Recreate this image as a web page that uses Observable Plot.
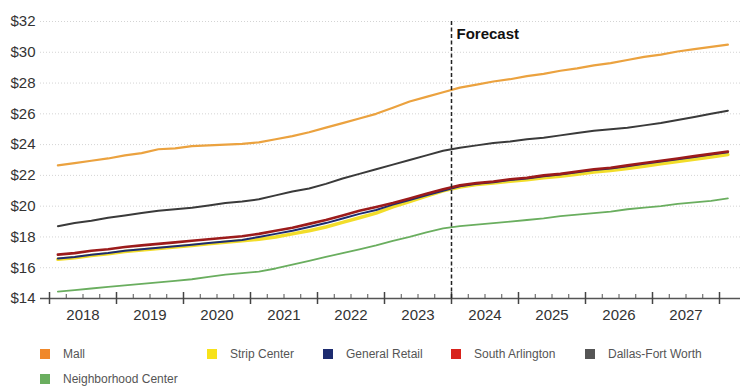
<!DOCTYPE html>
<html><head><meta charset="utf-8">
<script src="https://cdn.jsdelivr.net/npm/d3@7"></script>
<script src="https://cdn.jsdelivr.net/npm/@observablehq/plot@0.6"></script>
<style>
body{margin:0;background:#fff;font-family:"Liberation Sans",Arial,sans-serif;}
#wrap{position:relative;width:743px;height:387px;overflow:hidden;background:#fff}
#legend{position:absolute;left:0;top:0;width:743px;height:387px}
.item{position:absolute;display:flex;align-items:center;font-size:12px;color:#555;white-space:nowrap;transform:translateY(-50%)}
.sw{width:10px;height:10px;margin-right:13px;flex:none}
</style></head><body><div id="wrap"><div id="chart"></div><div id="legend"></div></div>
<script>
// ---- data ----
const years = [2018, 2019, 2020, 2021, 2022, 2023, 2024, 2025, 2026, 2027];
const periods = []; // quarterly periods 2018 Q1 ... 2028 Q1
for (const y of [...years, 2028]) for (let q = 1; q <= 4; q++) { if (y === 2028 && q > 1) break; periods.push(`${y} Q${q}`); }
const forecastStart = 2024;
const yTicks = [14, 16, 18, 20, 22, 24, 26, 28, 30, 32];

const mall = [22.65,22.8,22.95,23.1,23.3,23.45,23.7,23.75,23.9,23.95,24.0,24.05,24.15,24.35,24.55,24.8,25.1,25.4,25.7,26.0,26.4,26.8,27.1,27.4,27.7,27.9,28.1,28.25,28.45,28.6,28.8,28.95,29.15,29.3,29.5,29.7,29.85,30.05,30.2,30.35,30.5];
const stripCenter = [16.55,16.65,16.8,16.9,17.05,17.15,17.25,17.35,17.45,17.55,17.65,17.75,17.85,18.0,18.2,18.4,18.65,18.95,19.25,19.55,19.95,20.3,20.65,21.0,21.25,21.4,21.5,21.62,21.72,21.85,21.95,22.08,22.22,22.32,22.45,22.6,22.75,22.9,23.05,23.2,23.35];
const generalRetail = [16.6,16.7,16.85,16.95,17.1,17.2,17.3,17.4,17.5,17.6,17.7,17.8,18.0,18.2,18.4,18.65,18.9,19.2,19.5,19.75,20.1,20.4,20.7,21.0,21.3,21.45,21.55,21.7,21.8,21.95,22.05,22.2,22.35,22.45,22.6,22.75,22.9,23.05,23.2,23.35,23.5];
const southArlington = [16.85,16.95,17.1,17.2,17.35,17.45,17.55,17.65,17.75,17.85,17.95,18.05,18.2,18.4,18.6,18.85,19.1,19.4,19.7,19.95,20.2,20.5,20.8,21.1,21.35,21.5,21.6,21.75,21.85,22.0,22.1,22.25,22.4,22.5,22.65,22.8,22.95,23.1,23.25,23.4,23.55];
const dallasFortWorth = [18.7,18.9,19.05,19.25,19.4,19.55,19.7,19.8,19.9,20.05,20.2,20.3,20.45,20.7,20.95,21.15,21.45,21.8,22.1,22.4,22.7,23.0,23.3,23.6,23.8,23.95,24.1,24.2,24.35,24.45,24.6,24.75,24.9,25.0,25.1,25.25,25.4,25.6,25.8,26.0,26.2];
const neighborhoodCenter = [14.45,14.55,14.65,14.75,14.85,14.95,15.05,15.15,15.25,15.4,15.55,15.65,15.75,15.95,16.2,16.45,16.7,16.95,17.2,17.45,17.75,18.0,18.3,18.55,18.7,18.8,18.9,19.0,19.1,19.2,19.35,19.45,19.55,19.65,19.8,19.9,20.0,20.15,20.25,20.35,20.5];

const seriesNames = ["Mall", "Strip Center", "General Retail", "South Arlington", "Dallas-Fort Worth", "Neighborhood Center"];
const seriesValues = [mall, stripCenter, generalRetail, southArlington, dallasFortWorth, neighborhoodCenter];
const seriesColors = ["#EBA23F", "#F2DD2A", "#1D2C70", "#9C1B1B", "#3A3A3A", "#6AAE5F"];

// ---- build ----
const tOf = p => { const [y, q] = p.split(" Q").map(Number); return y + (q - 1) / 4 + 0.125; };
const rows = (vals) => periods.map((p, i) => ({t: tOf(p), v: vals[i]}));
const lineStyle = {
  "Mall": {strokeWidth: 2.2},
  "Strip Center": {strokeWidth: 3.5},
  "General Retail": {strokeWidth: 2},
  "South Arlington": {strokeWidth: 2.6},
  "Dallas-Fort Worth": {strokeWidth: 2},
  "Neighborhood Center": {strokeWidth: 1.8}
};
const drawOrder = ["Mall", "Neighborhood Center", "Dallas-Fort Worth", "Strip Center", "General Retail", "South Arlington"];

const quarterTicks = [];
for (const y of years) for (let q = 1; q < 4; q++) quarterTicks.push(y + q / 4);
const yearBounds = [...years, 2028];

const chart = Plot.plot({
  width: 743, height: 330,
  marginLeft: 40, marginRight: 3, marginTop: 21, marginBottom: 32,
  style: {fontFamily: "Liberation Sans, Arial, sans-serif", background: "white", color: "#333"},
  x: {type: "linear", domain: [2018 - 9 / 67, 2028 + 21 / 67]},
  y: {domain: [14, 32]},
  marks: [
    Plot.ruleY(yTicks.slice(1), {stroke: "#d4d4d4", strokeDasharray: "1,2", strokeWidth: 1}),
    Plot.axisY(yTicks, {tickSize: 0, tickPadding: 5, tickFormat: d => "$" + d, fontSize: 15, fill: "#333", label: null}),
    ...drawOrder.map(name => {
      const k = seriesNames.indexOf(name);
      return Plot.line(rows(seriesValues[k]), {x: "t", y: "v", stroke: seriesColors[k], strokeLinejoin: "round", ...lineStyle[name]});
    }),
    Plot.ruleY([14], {stroke: "#555", strokeWidth: 1.5}),
    Plot.axisX(quarterTicks, {tickSize: -4, tickFormat: () => "", stroke: "#555", label: null}),
    Plot.axisX(yearBounds, {tickSize: -6, tickFormat: () => "", stroke: "#444", strokeWidth: 1.5, label: null}),
    Plot.axisX(yearBounds, {tickSize: 6, tickFormat: () => "", stroke: "#444", strokeWidth: 1.5, label: null}),
    Plot.axisX(years.map(y => y + 0.5), {tickSize: 0, tickPadding: 11, tickFormat: d => String(Math.floor(d)), fontSize: 15, fill: "#333", label: null}),
    Plot.ruleX([forecastStart], {stroke: "#222", strokeWidth: 1.5, strokeDasharray: "4,2.5"}),
    Plot.text([forecastStart], {x: d => d, frameAnchor: "top", text: () => "Forecast", dx: 5, dy: 7, textAnchor: "start", fontWeight: "bold", fontSize: 15, fill: "#111"})
  ]
});
document.getElementById("chart").appendChild(chart);

// legend (layout positions only)
const legendPos = [[40, 354], [207, 354], [323, 354], [451, 354], [585, 354], [40, 379]];
const legendColors = ["#F0882A", "#F7E21A", "#1D2C70", "#D8221C", "#555555", "#6AAE5F"];
const lg = document.getElementById("legend");
seriesNames.forEach((name, i) => {
  const el = document.createElement("div");
  el.className = "item";
  el.style.left = legendPos[i][0] + "px";
  el.style.top = legendPos[i][1] + "px";
  el.innerHTML = `<span class="sw" style="background:${legendColors[i]}"></span><span>${name}</span>`;
  lg.appendChild(el);
});
</script>
</body></html>
